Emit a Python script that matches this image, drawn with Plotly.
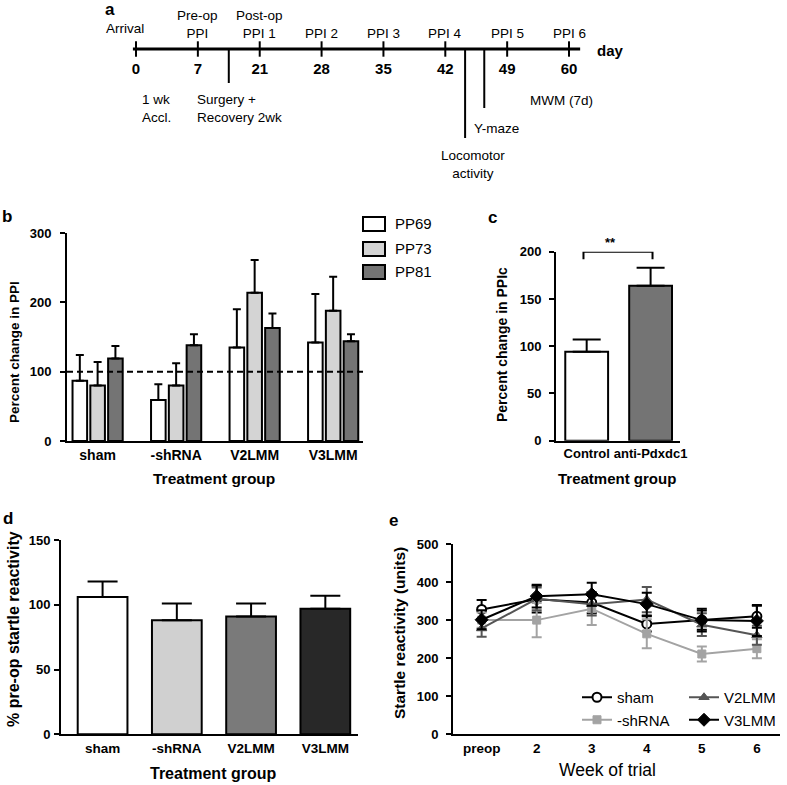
import plotly.graph_objects as go

W, H = 787, 785
FONT = "Liberation Sans, Arial, sans-serif"
NARROW = "Liberation Sans Narrow, Arial Narrow, Liberation Sans, Arial, sans-serif"

# ---------------- Panel a: timeline ----------------
days = [0, 7, 21, 28, 35, 42, 49, 60]
day_above = ["Arrival", "Pre-op<br>PPI", "Post-op<br>PPI 1", "PPI 2", "PPI 3", "PPI 4", "PPI 5", "PPI 6"]
event_labels = ["1 wk<br>Accl.", "Surgery +<br>Recovery 2wk", "MWM (7d)", "Y-maze", "Locomotor<br>activity"]
event_label_pos = [0.06, 0.95, 6.34, 5.43, 5.45]   # along the timeline (tick index units)
event_label_row = [108, 108, 100, 128, 164]
event_label_align = ["left", "left", "left", "left", "center"]
event_lines = [1.5, 5.32, 5.63]                   # surgery, locomotor, Y-maze
event_line_len = [83, 138, 108]

# ---------------- Panel b ----------------
groups = ["sham", "-shRNA", "V2LMM", "V3LMM"]
b_names = ["PP69", "PP73", "PP81"]
pp69 = [87, 59, 135, 142]
pp69_err = [37, 23, 55, 70]
pp73 = [80, 80, 214, 188]
pp73_err = [34, 32, 47, 49]
pp81 = [119, 138, 163, 144]
pp81_err = [18, 16, 21, 10]
b_colors = ["#ffffff", "#d4d4d4", "#747474"]
b_ticks = [0, 100, 200, 300]
b_ref = 100

# ---------------- Panel c ----------------
c_cats = ["Control", "anti-Pdxdc1"]
c_vals = [94, 164]
c_err = [13, 19]
c_colors = ["#ffffff", "#747474"]
c_ticks = [0, 50, 100, 150, 200]
c_sig = "**"

# ---------------- Panel d ----------------
d_vals = [106, 88, 91, 97]
d_err = [12, 13, 10, 10]
d_colors = ["#ffffff", "#d0d0d0", "#7a7a7a", "#282828"]
d_ticks = [0, 50, 100, 150]

# ---------------- Panel e ----------------
weeks = ["preop", "2", "3", "4", "5", "6"]
e_sham = [328, 355, 346, 290, 300, 310]
e_sham_err = [25, 35, 28, 20, 25, 30]
e_shrna = [300, 300, 330, 264, 211, 225]
e_shrna_err = [20, 45, 43, 38, 20, 25]
e_v2 = [278, 356, 342, 354, 288, 260]
e_v2_err = [22, 30, 30, 33, 30, 25]
e_v3 = [301, 363, 368, 342, 300, 298]
e_v3_err = [25, 30, 30, 30, 30, 40]
e_ticks = [0, 100, 200, 300, 400, 500]


def px(x):
    return x / W


def py(y):
    return 1 - y / H


fig = go.Figure()

# ---- timeline traces (axis x5/y5: y in pixel-like units, 0 at top) ----
pos = list(range(len(days)))
TL_Y = 49
fig.add_trace(go.Scatter(x=[pos[0] - 0.05, pos[-1] + 0.18], y=[TL_Y, TL_Y], mode="lines",
                         line=dict(color="black", width=3), xaxis="x5", yaxis="y5", showlegend=False,
                         hoverinfo="skip"))
fig.add_trace(go.Scatter(x=pos, y=[TL_Y] * len(pos), mode="markers",
                         marker=dict(symbol="line-ns", size=11, line=dict(color="black", width=2)),
                         xaxis="x5", yaxis="y5", showlegend=False, hoverinfo="skip"))
fig.add_trace(go.Scatter(x=pos, y=[70] * len(pos), mode="text", text=[str(d) for d in days],
                         textfont=dict(family=NARROW, size=15, color="black", weight="bold"),
                         xaxis="x5", yaxis="y5", showlegend=False, hoverinfo="skip"))
for xl, ln in zip(event_lines, event_line_len):
    fig.add_trace(go.Scatter(x=[xl, xl], y=[TL_Y, ln], mode="lines", line=dict(color="black", width=2),
                             xaxis="x5", yaxis="y5", showlegend=False, hoverinfo="skip"))

annotations = []
for i, lab in enumerate(day_above):
    if i == 0:
        annotations.append(dict(x=pos[i] - 0.18, y=37.5, xref="x5", yref="y5", text=lab, showarrow=False,
                                yanchor="bottom", xanchor="center",
                                font=dict(family=NARROW, size=13.5, color="black")))
    else:
        annotations.append(dict(x=pos[i], y=43, xref="x5", yref="y5", text=lab, showarrow=False,
                                yanchor="bottom", xanchor="center",
                                font=dict(family=NARROW, size=13.5, color="black")))
for lab, xp, yr, al in zip(event_labels, event_label_pos, event_label_row, event_label_align):
    annotations.append(dict(x=xp, y=yr, xref="x5", yref="y5", text=lab, showarrow=False,
                            xanchor=al, yanchor="middle", align=al,
                            font=dict(family=NARROW, size=13.5, color="black")))
annotations.append(dict(x=pos[-1] + 0.42, y=TL_Y + 1, xref="x5", yref="y5", text="day", showarrow=False,
                        xanchor="left", yanchor="middle",
                        font=dict(family=NARROW, size=15, color="black", weight="bold")))

# ---- panel b bars ----
for name, vals, errs, col in zip(b_names, [pp69, pp73, pp81], [pp69_err, pp73_err, pp81_err], b_colors):
    fig.add_trace(go.Bar(x=list(range(len(groups))), y=vals, name=name, marker=dict(color=col, line=dict(color="black", width=2)),
                         error_y=dict(type="data", array=errs, arrayminus=[0] * len(errs), symmetric=False,
                                      color="black", thickness=2, width=4),
                         xaxis="x", yaxis="y", showlegend=False))

# ---- panel c ----
fig.add_trace(go.Bar(x=list(range(len(c_cats))), y=c_vals, width=0.67,
                     marker=dict(color=c_colors, line=dict(color="black", width=2)),
                     error_y=dict(type="data", array=c_err, arrayminus=[0] * len(c_err), symmetric=False,
                                  color="black", thickness=2, width=14),
                     xaxis="x2", yaxis="y2", showlegend=False))

# ---- panel d ----
fig.add_trace(go.Bar(x=list(range(len(groups))), y=d_vals, width=0.67,
                     marker=dict(color=d_colors, line=dict(color="black", width=2)),
                     error_y=dict(type="data", array=d_err, arrayminus=[0] * len(d_err), symmetric=False,
                                  color="black", thickness=2, width=15),
                     xaxis="x3", yaxis="y3", showlegend=False))

# ---- panel e ----
e_series = [
    ("sham", e_sham, e_sham_err, "black", dict(symbol="circle", size=9, color="white", line=dict(color="black", width=2)), "legend2"),
    ("-shRNA", e_shrna, e_shrna_err, "#a3a3a3", dict(symbol="square", size=8, color="#a3a3a3", line=dict(color="#a3a3a3", width=1)), "legend2"),
    ("V2LMM", e_v2, e_v2_err, "#555555", dict(symbol="triangle-up", size=9, color="#555555", line=dict(color="#555555", width=1)), "legend3"),
    ("V3LMM", e_v3, e_v3_err, "black", dict(symbol="diamond", size=10, color="black", line=dict(color="black", width=1)), "legend3"),
]
for name, vals, errs, col, mk, lg in e_series:
    fig.add_trace(go.Scatter(x=list(range(len(weeks))), y=vals, name=name, mode="lines+markers",
                             line=dict(color=col, width=2), marker=mk,
                             error_y=dict(type="data", array=errs, color=col, thickness=2, width=5),
                             xaxis="x4", yaxis="y4", legend=lg))


def yax(domain, rng, ticks, anchor, standoff):
    return dict(domain=domain, range=rng, tickvals=ticks, showline=True, linewidth=2, linecolor="black",
                ticks="outside", ticklen=5, tickwidth=2, tickcolor="black", showgrid=False, zeroline=False,
                tickfont=dict(family=FONT, size=13, color="black", weight="bold"), anchor=anchor,
                ticklabelstandoff=standoff, fixedrange=True, automargin=False)


def xax(domain, rng, labels, anchor, size):
    return dict(domain=domain, range=rng, tickvals=list(range(len(labels))), ticktext=labels,
                showline=True, linewidth=2, linecolor="black", ticks="", showgrid=False, zeroline=False,
                tickfont=dict(family=FONT, size=size, color="black", weight="bold"), anchor=anchor,
                tickangle=0, fixedrange=True, automargin=False)


shapes = []
# dashed reference line in panel b
shapes.append(dict(type="line", xref="x domain", yref="y", x0=0, x1=1.007, y0=b_ref, y1=b_ref,
                   line=dict(color="black", width=2, dash="6px,4px")))
# significance bracket panel c
shapes.append(dict(type="path", xref="x2", yref="y2", path="M -0.05,192 L -0.05,200 L 1.03,200 L 1.03,192",
                   line=dict(color="black", width=2)))
annotations.append(dict(x=px(618), y=py(243), xref="paper", yref="paper", text=c_sig, showarrow=False,
                        yanchor="middle", font=dict(family=FONT, size=13, color="black", weight="bold")))

# manual legend for panel b
leg_rows = [224, 249, 272]
for name, col, yr in zip(b_names, b_colors, leg_rows):
    shapes.append(dict(type="rect", xref="paper", yref="paper", x0=px(363), x1=px(385), y0=py(yr + 7), y1=py(yr - 7),
                       fillcolor=col, line=dict(color="black", width=2)))
    annotations.append(dict(x=px(393), y=py(yr), xref="paper", yref="paper", text=name, showarrow=False,
                            xanchor="left", yanchor="middle", font=dict(family=FONT, size=15, color="black")))

# panel letters
for letter, x, y in [("a", 110, 10), ("b", 7, 217), ("c", 493, 218), ("d", 8, 518), ("e", 393, 520)]:
    annotations.append(dict(x=px(x), y=py(y), xref="paper", yref="paper", text=letter, showarrow=False,
                            xanchor="center", yanchor="middle",
                            font=dict(family=FONT, size=17, color="black", weight="bold")))


# axis titles
def title(text, x, y, size, angle=0, bold=True):
    annotations.append(dict(x=px(x), y=py(y), xref="paper", yref="paper", text=text, showarrow=False,
                            xanchor="center", yanchor="middle", textangle=angle,
                            font=dict(family=FONT, size=size, color="black", weight="bold" if bold else "normal")))


title("Percent change in PPI", 14, 352, 13.5, -90)
title("Treatment group", 214, 478, 15.5)
title("Percent change in PPIc", 502, 345, 14, -90)
title("Treatment group", 617, 478, 15)
title("% pre-op startle reactivity", 13, 629, 16, -90)
title("Treatment group", 213, 773, 16)
title("Startle reactivity (units)", 399, 633, 15.5, -90)
title("Week of trial", 607, 770, 17.5, bold=False)

fig.update_layout(
    width=W, height=H, margin=dict(l=0, r=0, t=0, b=0, pad=0, autoexpand=False),
    paper_bgcolor="white", plot_bgcolor="rgba(0,0,0,0)",
    font=dict(family=FONT, color="black"),
    barmode="group", bargap=0.32, bargroupgap=0.18,
    xaxis=xax([px(67), px(363)], [-0.39, 3.38], groups, "y", 14),
    yaxis=yax([py(441), py(233)], [0, 300], b_ticks, "x", 6),
    xaxis2=xax([px(556), px(680)], [-0.48, 1.46], c_cats, "y2", 13),
    yaxis2=yax([py(440.7), py(251.7)], [0, 200], c_ticks, "x2", 5),
    xaxis3=xax([px(61), px(358)], [-0.56, 3.44], groups, "y3", 13.5),
    yaxis3=yax([py(734.3), py(540)], [0, 150], d_ticks, "x3", 1),
    xaxis4=xax([px(453), px(780)], [-0.52, 5.42], weeks, "y4", 13.5),
    yaxis4=yax([py(734.3), py(544)], [0, 500], e_ticks, "x4", 5),
    xaxis5=dict(domain=[0, 1], range=[-136 / 61.86, (W - 136) / 61.86], visible=False, fixedrange=True),
    yaxis5=dict(domain=[py(196), 1], range=[196, 0], visible=False, fixedrange=True),
    legend2=dict(x=px(577), y=py(681), xanchor="left", yanchor="top", bgcolor="rgba(0,0,0,0)",
                 font=dict(family=FONT, size=15, color="black"), tracegroupgap=0),
    legend3=dict(x=px(684), y=py(681), xanchor="left", yanchor="top", bgcolor="rgba(0,0,0,0)",
                 font=dict(family=FONT, size=15, color="black"), tracegroupgap=0),
    shapes=shapes, annotations=annotations,
)

fig.write_html("out.html", config={"responsive": False, "displayModeBar": False},
               post_script="document.body.style.margin='0px';document.body.style.overflow='hidden';")
